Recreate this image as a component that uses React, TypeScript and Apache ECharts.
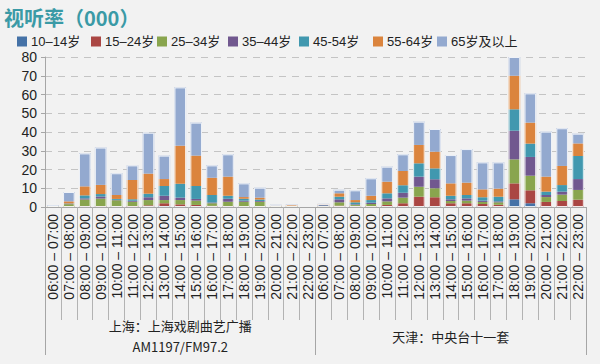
import { useEffect, useRef } from "react";
import * as echarts from "echarts";

const times = [
  "06:00 – 07:00", "07:00 – 08:00", "08:00 – 09:00", "09:00 – 10:00", "10:00 – 11:00",
  "11:00 – 12:00", "12:00 – 13:00", "13:00 – 14:00", "14:00 – 15:00", "15:00 – 16:00",
  "16:00 – 17:00", "17:00 – 18:00", "18:00 – 19:00", "19:00 – 20:00", "20:00 – 21:00",
  "21:00 – 22:00", "22:00 – 23:00",
];
const groupLabels = ["上海：上海戏剧曲艺广播\nAM1197/FM97.2", "天津：中央台十一套"];
const ageGroups = ["10–14岁", "15–24岁", "25–34岁", "35–44岁", "45-54岁", "55-64岁", "65岁及以上"];

// Shanghai (上海戏剧曲艺广播)
const sh1014 = [0, 0, 0.2, 0.2, 0.1, 0.2, 0.3, 0.5, 0.3, 0.3, 0.2, 0.2, 0.1, 0.1, 0, 0, 0];
const sh1524 = [0, 0.2, 0.3, 0.3, 0.2, 0.4, 0.6, 1.5, 1.1, 0.8, 0.4, 0.3, 0.2, 0.2, 0.1, 0.1, 0];
const sh2534 = [0.2, 1.3, 3.5, 4.0, 3.3, 2.2, 2.8, 1.7, 2.3, 2.3, 1.4, 2.3, 2.5, 2.5, 0.2, 0.2, 0];
const sh3544 = [0.1, 0.2, 0.6, 1.1, 0.2, 0.6, 1.5, 2.3, 1.3, 0.9, 0.4, 1.6, 0.6, 0.4, 0, 0, 0];
const sh4554 = [0.1, 0.2, 1.6, 1.3, 0.5, 0.7, 1.9, 5.2, 7.4, 6.9, 4.0, 1.6, 1.0, 0.8, 0.1, 0.1, 0];
const sh5564 = [0.1, 1.1, 4.8, 4.9, 2.1, 10.3, 10.7, 3.7, 20.3, 16.2, 9.2, 10.2, 0.9, 1.0, 0.3, 0.6, 0];
const sh65 = [0.4, 5.0, 17.6, 19.9, 11.6, 7.8, 21.8, 12.5, 31.1, 17.6, 6.6, 11.9, 7.3, 5.3, 0.5, 0.4, 0];

// Tianjin (中央台十一套)
const tj1014 = [0.1, 0.2, 0.2, 0.1, 0.3, 0.2, 0.3, 0.3, 0.3, 0.3, 0.2, 0.2, 4.1, 2.0, 0.2, 0.2, 0.1];
const tj1524 = [0.2, 0.5, 0.4, 0.4, 0.8, 1.8, 5.2, 4.9, 1.7, 1.7, 1.4, 1.0, 8.5, 6.9, 2.5, 3.0, 3.8];
const tj2534 = [0.2, 1.8, 0.6, 1.1, 1.9, 3.0, 5.3, 4.8, 1.2, 1.4, 1.1, 1.3, 12.8, 7.8, 2.6, 3.4, 5.2];
const tj3544 = [0.4, 1.6, 0.3, 0.7, 1.6, 2.6, 5.4, 4.8, 0.9, 1.2, 0.7, 0.5, 15.3, 10.0, 1.1, 1.6, 5.8];
const tj4554 = [0.2, 1.4, 1.0, 1.4, 2.7, 4.0, 7.1, 5.8, 1.9, 1.8, 1.8, 2.5, 11.4, 7.1, 1.8, 3.5, 12.3];
const tj5564 = [0.3, 1.8, 1.2, 2.3, 6.2, 7.6, 9.8, 8.9, 6.6, 6.6, 4.2, 4.3, 17.9, 11.2, 8.0, 10.2, 6.7];
const tj65 = [0.3, 1.9, 5.2, 9.3, 8.0, 8.9, 12.4, 12.1, 15.1, 17.9, 14.4, 14.0, 10.0, 15.6, 24.0, 20.1, 5.2];

const yTicks = { min: 0, max: 80, interval: 10 };

const colors = ["#4572A7", "#AA4643", "#89A54E", "#71588F", "#4198AF", "#DB843D", "#93A9CF"];
const legendLeft = [17, 91, 157, 228, 299, 373, 437];
const FONT = "'Liberation Sans', Arial, 'Noto Sans CJK SC', sans-serif";

export default function App() {
  const ref = useRef<HTMLDivElement>(null);
  useEffect(() => {
    if (!ref.current) return;
    const chart = echarts.init(ref.current, null, { renderer: "svg" });
    const categories = [...times, ...times];
    const shSeries = [sh1014, sh1524, sh2534, sh3544, sh4554, sh5564, sh65];
    const tjSeries = [tj1014, tj1524, tj2534, tj3544, tj4554, tj5564, tj65];
    const seriesData = ageGroups.map((_, i) => [...shSeries[i], ...tjSeries[i]]);
    const totals = categories.map((_, j) =>
      Math.round(seriesData.reduce((s, arr) => s + arr[j], 0) * 10) / 10
    );

    const series: any[] = ageGroups.map((name, i) => ({
      name,
      type: "bar",
      stack: "total",
      data: seriesData[i],
      barCategoryGap: "27%",
      barGap: "-100%",
      itemStyle: { color: colors[i] },
      emphasis: { disabled: true },
    }));
    series.push({
      name: "outline",
      type: "bar",
      data: totals.map((v) => (v > 0 ? v : null)),
      barCategoryGap: "27%",
      barGap: "-100%",
      silent: true,
      z: 3,
      itemStyle: { color: "transparent", borderColor: "rgba(255,255,255,0.85)", borderWidth: 1 },
      emphasis: { disabled: true },
    });

    chart.setOption({
      animation: false,
      backgroundColor: "#f2f2f2",
      title: {
        text: "视听率（000）",
        left: 4,
        top: 5,
        padding: 0,
        textStyle: {
          color: "#3a9aa6",
          fontSize: 20,
          lineHeight: 24,
          fontWeight: "bold",
          fontFamily: "'Noto Sans CJK SC', sans-serif",
        },
      },
      legend: ageGroups.map((name, i) => ({
        data: [name],
        left: legendLeft[i],
        top: 35,
        padding: 0,
        itemWidth: 10,
        itemHeight: 10,
        icon: "rect",
        selectedMode: false,
        textStyle: { fontSize: 13, color: "#222", fontFamily: FONT, padding: [0, 0, 0, -1] },
      })),
      grid: { left: 45, right: 14, top: 57, bottom: 157, outerBoundsMode: "none" },
      xAxis: [
        {
          type: "category",
          data: categories,
          position: "bottom",
          axisLine: { show: true, lineStyle: { color: "#a6a6a6", width: 1 } },
          axisTick: { show: true, interval: 0, length: 113, lineStyle: { color: "#b3b3b3" } },
          axisLabel: {
            interval: 0,
            rotate: 90,
            margin: 7,
            fontSize: 14,
            color: "#222",
            fontFamily: FONT,
          },
          splitLine: { show: false },
        },
        {
          type: "category",
          data: groupLabels,
          position: "bottom",
          axisLine: { show: false },
          axisTick: { show: true, interval: 0, length: 148, lineStyle: { color: "#a6a6a6" } },
          axisLabel: {
            interval: 0,
            margin: 129,
            verticalAlign: "middle",
            lineHeight: 21,
            fontSize: 13,
            color: "#222",
            fontFamily: "'Noto Sans CJK SC', " + FONT,
          },
          splitLine: { show: false },
        },
      ],
      yAxis: {
        type: "value",
        min: yTicks.min,
        max: yTicks.max,
        interval: yTicks.interval,
        axisLine: { show: true, lineStyle: { color: "#a6a6a6" } },
        axisTick: { show: true, length: 4, lineStyle: { color: "#a6a6a6" } },
        axisLabel: { fontSize: 14, color: "#222", margin: 8, fontFamily: FONT },
        splitLine: { show: true, lineStyle: { type: [7, 6], color: "#c4c4c4", width: 1 } },
      },
      series,
    });
    return () => chart.dispose();
  }, []);
  return (
    <div
      ref={ref}
      style={{ position: "fixed", left: 0, top: 0, width: 600, height: 364, background: "#f2f2f2" }}
    />
  );
}
